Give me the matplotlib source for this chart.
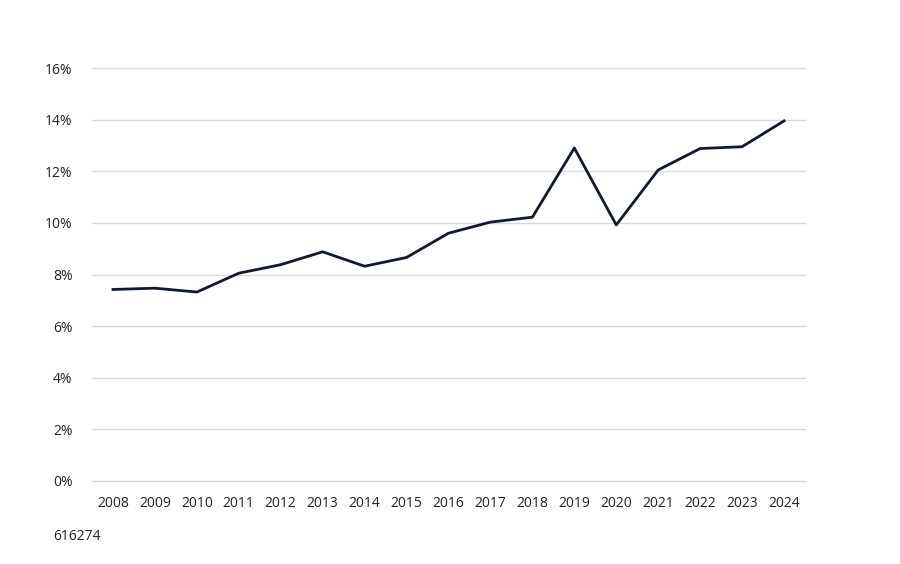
import matplotlib.pyplot as plt
import numpy as np

years = ["2008", "2009", "2010", "2011", "2012", "2013", "2014", "2015", "2016",
         "2017", "2018", "2019", "2020", "2021", "2022", "2023", "2024"]
share = [7.42, 7.47, 7.32, 8.05, 8.38, 8.88, 8.32, 8.66, 9.6,
         10.03, 10.22, 12.9, 9.92, 12.05, 12.88, 12.95, 13.95]
y_ticks = [0, 2, 4, 6, 8, 10, 12, 14, 16]
source_id = "616274"

plt.rcParams['font.family'] = ['Open Sans', 'DejaVu Sans']

fig = plt.figure(figsize=(9, 5.64), dpi=100)
ax = fig.add_axes([92/900, 1 - 481/564, 713/900, 413/564])

x = np.arange(len(years))
ax.plot(x, share, color='#111a2c', linewidth=2)

ax.set_xlim(-0.5, len(years) - 0.5)
ax.set_ylim(0, 16)
ax.set_yticks(y_ticks)
ax.set_yticklabels([f"{t}%" for t in y_ticks])
ax.set_xticks(x)
ax.set_xticklabels(years)
ax.grid(axis='y', color='#d9d9d9', linewidth=1)
for gl in ax.get_ygridlines():
    gl.set_clip_on(False)
ax.set_axisbelow(True)
for s in ax.spines.values():
    s.set_visible(False)
ax.tick_params(length=0, labelsize=10, colors='#222222')
ax.tick_params(axis='x', pad=10.5)
ax.tick_params(axis='y', pad=14)

fig.text(53/900, 1 - 536/564, source_id, fontsize=10, color='#222222', va='center')

fig.savefig("out.png", dpi=100, facecolor='white')
